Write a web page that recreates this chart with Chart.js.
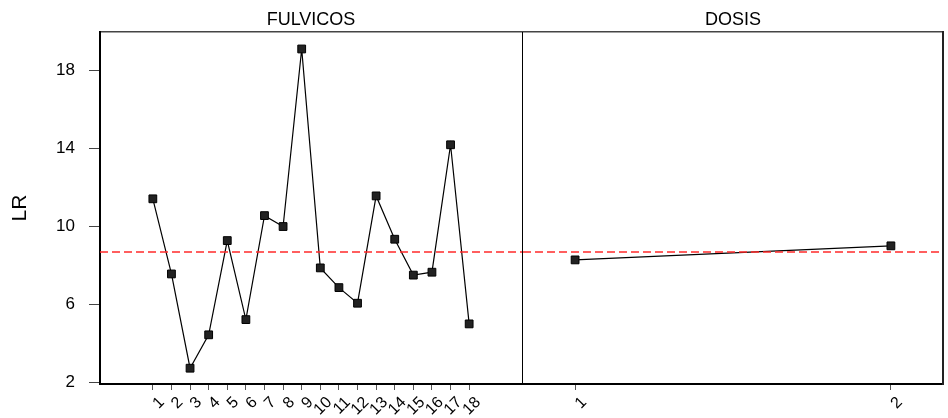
<!DOCTYPE html>
<html>
<head>
<meta charset="utf-8">
<script src="https://cdn.jsdelivr.net/npm/chart.js@4.4.1/dist/chart.umd.min.js"></script>
<style>
  html, body { margin: 0; padding: 0; background: #fff; }
  #wrap { position: relative; width: 948px; height: 418px; }
  #wrap canvas { position: absolute; top: 0; }
</style>
</head>
<body>
<div id="wrap">
  <canvas id="fulvicos" width="523" height="418" style="left:0"></canvas>
  <canvas id="dosis" width="425" height="418" style="left:523px"></canvas>
</div>
<script>
// factor levels and mean LR per level
const fulvicosLevels = ['1', '2', '3', '4', '5', '6', '7', '8', '9', '10', '11', '12', '13', '14', '15', '16', '17', '18'];
const fulvicosLR = [11.40, 7.55, 2.72, 4.43, 9.26, 5.21, 10.54, 9.98, 19.08, 7.86, 6.85, 6.05, 11.55, 9.33, 7.49, 7.64, 14.17, 4.99];
const dosisLevels = ['1', '2'];
const dosisLR = [8.27, 8.99];
const lrTicks = [2, 6, 10, 14, 18];
const meanLR = 8.68;

const FONT = "'Liberation Sans', Arial, Helvetica, sans-serif";
Chart.defaults.font.family = FONT;
Chart.defaults.color = '#000';

const yMin = 1.91, yMax = 19.95;
const fulvRange = [-1.84, 20.84];
const dosisRange = [0.835, 2.165];

function levelScale(levels, range) {
  return {
    type: 'linear',
    position: 'bottom',
    min: range[0],
    max: range[1],
    afterBuildTicks: s => { s.ticks = levels.map((_, i) => ({ value: i + 1 })); },
    afterFit: s => {
      // rotated labels must not push the plot area in
      s.height = 34;
      s.paddingLeft = 0;
      s.paddingRight = 0;
    },
    grid: { drawOnChartArea: false, tickLength: 6, color: '#555' },
    border: { color: '#000', width: 2 },
    ticks: {
      autoSkip: false,
      minRotation: 45,
      maxRotation: 45,
      padding: 3,
      labelOffset: 9,
      font: { size: 16 },
      callback: v => levels[v - 1]
    }
  };
}

function titleScale(text, range) {
  return {
    type: 'linear',
    position: 'top',
    min: range[0],
    max: range[1],
    grid: { display: false },
    ticks: { display: false },
    border: { color: '#444', width: 1.5 },
    title: { display: true, text: text, font: { size: 18 }, padding: { top: 9, bottom: 0 } },
    afterFit: s => { s.height = 32; s.paddingLeft = 0; s.paddingRight = 0; }
  };
}

function seriesDataset(values) {
  return {
    data: values.map((v, i) => ({ x: i + 1, y: v })),
    borderColor: '#000',
    borderWidth: 1.2,
    pointStyle: 'rect',
    pointRadius: 5.5,
    pointBackgroundColor: '#222',
    pointBorderColor: '#000',
    pointBorderWidth: 1,
    order: 1
  };
}

function meanDataset(range) {
  return {
    data: [{ x: range[0], y: meanLR }, { x: range[1], y: meanLR }],
    borderColor: '#ff2a2a',
    borderWidth: 1.5,
    borderDash: [8, 4],
    pointRadius: 0,
    order: 0
  };
}

const common = {
  responsive: false,
  animation: false,
  events: [],
  devicePixelRatio: 1,
  plugins: { legend: { display: false }, tooltip: { enabled: false } }
};

new Chart(document.getElementById('fulvicos'), {
  type: 'line',
  data: { datasets: [seriesDataset(fulvicosLR), meanDataset(fulvRange)] },
  options: {
    ...common,
    layout: { autoPadding: false, padding: { left: 0, right: 1, top: 0, bottom: 0 } },
    scales: {
      x: levelScale(fulvicosLevels, fulvRange),
      xTop: titleScale('FULVICOS', fulvRange),
      y: {
        type: 'linear',
        position: 'left',
        min: yMin,
        max: yMax,
        afterBuildTicks: s => { s.ticks = lrTicks.map(v => ({ value: v })); },
        afterFit: s => { s.width = 100; s.paddingTop = 0; s.paddingBottom = 0; },
        grid: { drawOnChartArea: false, tickLength: 11, color: '#444' },
        border: { color: '#000', width: 2 },
        ticks: { padding: 14, font: { size: 17 } },
        title: { display: true, text: 'LR', font: { size: 21 }, padding: { top: 8, bottom: 0 } }
      },
      yDiv: {
        type: 'linear',
        position: 'right',
        grid: { display: false },
        ticks: { display: false },
        border: { color: '#000', width: 1 },
        afterFit: s => { s.width = 0; s.paddingTop = 0; s.paddingBottom = 0; }
      }
    }
  }
});

new Chart(document.getElementById('dosis'), {
  type: 'line',
  data: { datasets: [seriesDataset(dosisLR), meanDataset(dosisRange)] },
  options: {
    ...common,
    layout: { autoPadding: false, padding: 0 },
    scales: {
      x: levelScale(dosisLevels, dosisRange),
      xTop: titleScale('DOSIS', dosisRange),
      y: {
        type: 'linear',
        position: 'right',
        min: yMin,
        max: yMax,
        grid: { drawOnChartArea: false, drawTicks: false },
        ticks: { display: false },
        border: { color: '#222', width: 2 },
        afterFit: s => { s.width = 5; s.paddingTop = 0; s.paddingBottom = 0; }
      }
    }
  }
});
</script>
</body>
</html>
